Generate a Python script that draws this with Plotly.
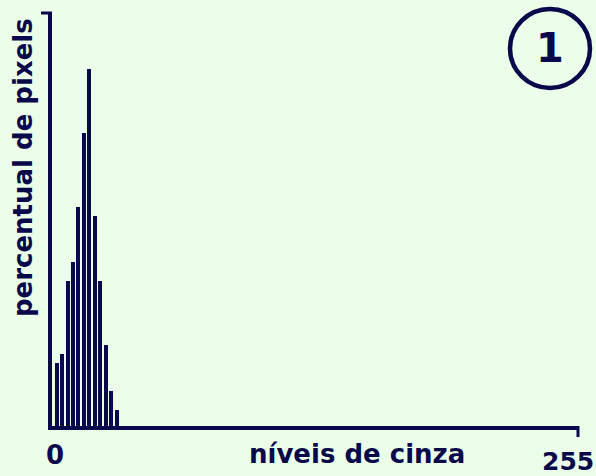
import plotly.graph_objects as go

# Data
gray_levels = [3.2, 5.8, 8.5, 11.1, 13.7, 16.4, 19.0, 21.6, 24.3, 26.9, 29.6, 32.2]
pixel_pct = [1.57, 1.78, 3.54, 4.0, 5.33, 7.1, 8.65, 5.1, 3.54, 2.0, 0.89, 0.43]
x_tick_labels = ["0", "255"]
x_title = "níveis de cinza"
y_title = "percentual de pixels"
badge = "1"

NAVY = "#08084a"
BG = "#eafee9"
FONT = "DejaVu Sans"

W, H = 596, 476
L, R, T, B = 50, 18, 13, 48
pw, ph = W - L - R, H - T - B

def px(x):
    return (x - L) / pw

def py(y):
    return (H - B - y) / ph

fig = go.Figure()
fig.add_trace(go.Bar(
    x=gray_levels, y=pixel_pct, width=1.93,
    marker=dict(color=NAVY, line=dict(width=0)),
    hoverinfo="skip",
))

shapes = [
    # y axis
    dict(type="line", xref="paper", yref="paper", x0=0, x1=0, y0=py(430), y1=1,
         line=dict(color=NAVY, width=4)),
    dict(type="line", xref="paper", yref="paper", x0=px(41), x1=px(52), y0=1, y1=1,
         line=dict(color=NAVY, width=3)),
    # x axis
    dict(type="line", xref="paper", yref="paper", x0=px(48), x1=1, y0=0, y1=0,
         line=dict(color=NAVY, width=4)),
    dict(type="line", xref="paper", yref="paper", x0=1, x1=1, y0=py(426), y1=py(437),
         line=dict(color=NAVY, width=3)),
    # badge circle
    dict(type="circle", xref="paper", yref="paper", x0=px(510), x1=px(590), y0=py(88), y1=py(9),
         line=dict(color=NAVY, width=4.5), fillcolor="rgba(0,0,0,0)"),
]

def ann(text, x, y, size=26, angle=0):
    return dict(text=text, x=px(x), y=py(y), xref="paper", yref="paper",
                xanchor="center", yanchor="middle", textangle=angle,
                showarrow=False, font=dict(family=FONT, size=size, color=NAVY, weight="bold"))

annots = [
    ann(x_tick_labels[0], 55, 455),
    ann(x_tick_labels[1], 568, 461, size=25),
    ann(x_title, 357, 454),
    ann(y_title, 23, 168, angle=-90),
    ann(badge, 550, 48, size=40),
]

fig.update_layout(
    width=W, height=H,
    margin=dict(l=L, r=R, t=T, b=B),
    paper_bgcolor=BG, plot_bgcolor=BG,
    showlegend=False,
    xaxis=dict(range=[0, 255], visible=False, fixedrange=True),
    yaxis=dict(range=[0, 10], visible=False, fixedrange=True),
    shapes=shapes, annotations=annots,
    bargap=0,
)

fig.write_html("out.html", config={"displayModeBar": False},
               post_script="document.body.style.margin='0';document.body.style.background='" + BG + "';")
